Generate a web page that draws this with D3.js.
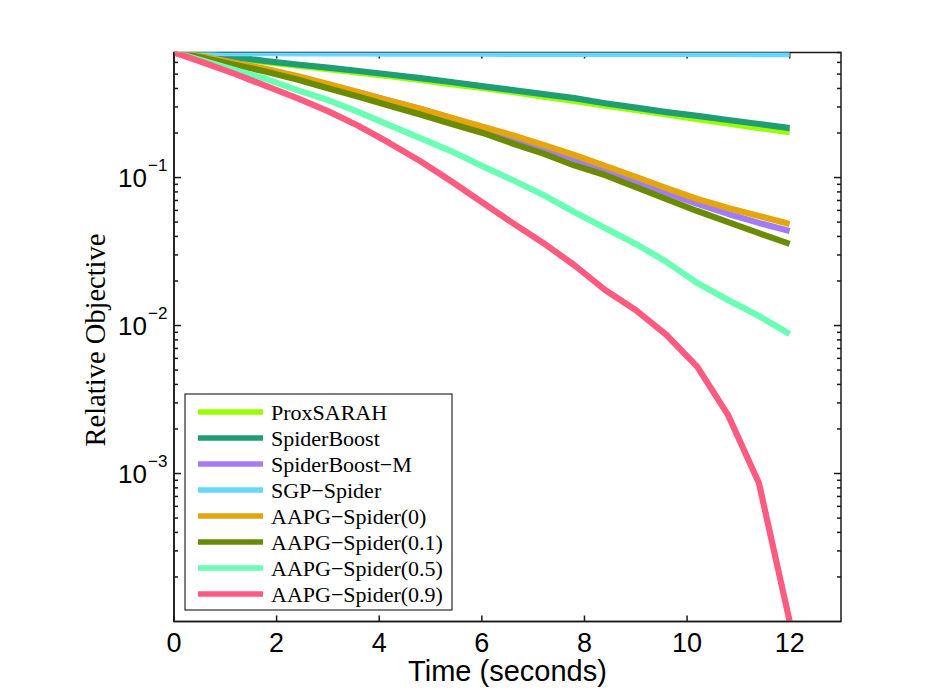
<!DOCTYPE html>
<html>
<head>
<meta charset="utf-8">
<script src="https://cdn.jsdelivr.net/npm/d3@7"></script>
<style>
	body { margin: 0; background: #fff; }
	svg { display: block; }
	.tick-label { font-family: "Liberation Sans", Arial, sans-serif; fill: #000; }
	.serif { font-family: "Liberation Serif", "Times New Roman", serif; fill: #000; }
</style>
</head>
<body>
<svg id="chart" width="930" height="700"></svg>
<script>
// time axis, shared by all runs (seconds)
var times = [0, 0.6, 1.2, 1.8, 2.4, 3.0, 3.6, 4.2, 4.8, 5.4, 6.0, 6.6, 7.2, 7.8, 8.4, 9.0, 9.6, 10.2, 10.8, 11.4, 12.0];

var proxSarah = [0.70, 0.677, 0.641, 0.602, 0.571, 0.541, 0.512, 0.485, 0.456, 0.428, 0.403, 0.379, 0.352, 0.329, 0.306, 0.286, 0.267, 0.248, 0.232, 0.216, 0.203];
var spiderBoost = [0.70, 0.682, 0.652, 0.612, 0.581, 0.553, 0.525, 0.497, 0.470, 0.442, 0.415, 0.390, 0.366, 0.344, 0.318, 0.297, 0.277, 0.261, 0.245, 0.230, 0.216];
var spiderBoostM = [0.70, 0.650, 0.591, 0.537, 0.482, 0.425, 0.376, 0.330, 0.291, 0.253, 0.218, 0.187, 0.159, 0.134, 0.113, 0.0938, 0.0788, 0.0664, 0.0568, 0.0494, 0.0436];
var sgpSpider = [0.700, 0.696, 0.694, 0.692, 0.691, 0.690, 0.689, 0.688, 0.688, 0.687, 0.687, 0.686, 0.686, 0.685, 0.685, 0.685, 0.684, 0.684, 0.684, 0.683, 0.683];
var aapg0 = [0.70, 0.652, 0.594, 0.541, 0.485, 0.428, 0.377, 0.331, 0.292, 0.254, 0.221, 0.193, 0.166, 0.142, 0.120, 0.101, 0.0849, 0.0716, 0.0622, 0.0550, 0.0485];
var aapg01 = [0.70, 0.641, 0.577, 0.519, 0.460, 0.401, 0.352, 0.306, 0.267, 0.231, 0.201, 0.170, 0.145, 0.121, 0.104, 0.0863, 0.0716, 0.0594, 0.0500, 0.0421, 0.0356];
var aapg05 = [0.70, 0.612, 0.532, 0.463, 0.390, 0.334, 0.277, 0.226, 0.185, 0.151, 0.120, 0.0962, 0.0762, 0.0585, 0.0456, 0.0356, 0.0269, 0.0194, 0.0149, 0.0116, 0.00877];
var aapg09 = [0.70, 0.594, 0.500, 0.415, 0.344, 0.281, 0.223, 0.171, 0.129, 0.0946, 0.0682, 0.0493, 0.0361, 0.0256, 0.0174, 0.0127, 0.00863, 0.00525, 0.00248, 0.000863, 0.0001];

var seriesNames = ["ProxSARAH", "SpiderBoost", "SpiderBoost\u2212M", "SGP\u2212Spider",
	"AAPG\u2212Spider(0)", "AAPG\u2212Spider(0.1)", "AAPG\u2212Spider(0.5)", "AAPG\u2212Spider(0.9)"];
var seriesValues = [proxSarah, spiderBoost, spiderBoostM, sgpSpider, aapg0, aapg01, aapg05, aapg09];
var seriesColors = ["#99ff00", "#1f9e74", "#a27cf6", "#66d8ff", "#e5a50c", "#6b8b00", "#6affb5", "#ff5a7f"];

var xTicks = [0, 2, 4, 6, 8, 10, 12];
var yMajor = [1e-1, 1e-2, 1e-3];
var yExponents = ["\u22121", "\u22122", "\u22123"];

(function() {
	// plot frame in pixels
	var pLeft = 174, pRight = 841, pTop = 52.5, pBottom = 621.5;

	var svg = d3.select("#chart");

	var x = d3.scaleLinear().domain([0, 13]).range([pLeft, pRight]);
	var y = d3.scaleLog().domain([1e-4, 0.7]).range([pBottom, pTop]);

	// minor log ticks 2..9 of every decade that falls inside the domain
	var yMinor = [];
	[1e-4, 1e-3, 1e-2, 1e-1].forEach(function(d) {
		for (var k = 2; k <= 9; k++) {
			var v = d * k;
			if (v <= 0.7 + 1e-9) {
				yMinor.push(v);
			}
		}
	});

	var axisColor = "#1a1a1a";

	svg.append("defs").append("clipPath")
		.attr("id", "plotClip")
		.append("rect")
		.attr("x", pLeft)
		.attr("y", pTop)
		.attr("width", pRight - pLeft)
		.attr("height", pBottom - pTop);

	// axes box with inward ticks on all four sides
	var axes = svg.append("g")
		.attr("stroke", axisColor)
		.attr("stroke-width", 1.5)
		.attr("fill", "none");

	axes.append("rect")
		.attr("x", pLeft)
		.attr("y", pTop)
		.attr("width", pRight - pLeft)
		.attr("height", pBottom - pTop);

	xTicks.forEach(function(t) {
		axes.append("line").attr("x1", x(t)).attr("x2", x(t)).attr("y1", pBottom).attr("y2", pBottom - 6);
		axes.append("line").attr("x1", x(t)).attr("x2", x(t)).attr("y1", pTop).attr("y2", pTop + 6);
	});

	yMajor.forEach(function(v) {
		axes.append("line").attr("x1", pLeft).attr("x2", pLeft + 7).attr("y1", y(v)).attr("y2", y(v));
		axes.append("line").attr("x1", pRight).attr("x2", pRight - 7).attr("y1", y(v)).attr("y2", y(v));
	});

	yMinor.forEach(function(v) {
		axes.append("line").attr("x1", pLeft).attr("x2", pLeft + 4).attr("y1", y(v)).attr("y2", y(v));
		axes.append("line").attr("x1", pRight).attr("x2", pRight - 4).attr("y1", y(v)).attr("y2", y(v));
	});

	// clipped line layer, drawn in legend order
	var line = d3.line()
		.x(function(d, i) { return x(times[i]); })
		.y(function(d) { return y(d); });

	svg.append("g")
		.attr("clip-path", "url(#plotClip)")
		.selectAll("path")
		.data(seriesValues)
		.enter()
		.append("path")
		.attr("d", line)
		.attr("fill", "none")
		.attr("stroke", function(d, i) { return seriesColors[i]; })
		.attr("stroke-width", 6.2)
		.attr("stroke-linejoin", "round")
		.attr("stroke-linecap", "butt");

	// redraw the frame sides that the curves may have covered
	svg.append("line")
		.attr("x1", pLeft).attr("x2", pLeft).attr("y1", pTop).attr("y2", pBottom)
		.attr("stroke", axisColor).attr("stroke-width", 1.5);
	svg.append("line")
		.attr("x1", pLeft).attr("x2", pRight).attr("y1", pBottom).attr("y2", pBottom)
		.attr("stroke", axisColor).attr("stroke-width", 1.5);

	// tick labels
	svg.append("g")
		.selectAll("text")
		.data(xTicks)
		.enter()
		.append("text")
		.attr("class", "tick-label")
		.attr("x", function(d) { return x(d); })
		.attr("y", pBottom + 30)
		.attr("text-anchor", "middle")
		.style("font-size", "27px")
		.text(function(d) { return d; });

	var yLabels = svg.append("g");
	yMajor.forEach(function(v, i) {
		yLabels.append("text")
			.attr("class", "tick-label")
			.attr("x", 147)
			.attr("y", y(v) + 9.5)
			.attr("text-anchor", "end")
			.style("font-size", "26px")
			.text("10");
		yLabels.append("text")
			.attr("class", "tick-label")
			.attr("x", 148)
			.attr("y", y(v) - 7)
			.attr("text-anchor", "start")
			.style("font-size", "17px")
			.text(yExponents[i]);
	});

	// axis titles
	svg.append("text")
		.attr("class", "tick-label")
		.attr("x", (pLeft + pRight) / 2)
		.attr("y", 681)
		.attr("text-anchor", "middle")
		.style("font-size", "29px")
		.text("Time (seconds)");

	svg.append("text")
		.attr("class", "serif")
		.attr("transform", "translate(105," + ((pTop + pBottom) / 2 + 3) + ") rotate(-90)")
		.attr("text-anchor", "middle")
		.style("font-size", "28.5px")
		.text("Relative Objective");

	// legend
	var legX = 185, legY = 394, legW = 267, legH = 216, rowH = 26;

	var legend = svg.append("g");
	legend.append("rect")
		.attr("x", legX)
		.attr("y", legY)
		.attr("width", legW)
		.attr("height", legH)
		.attr("fill", "#fff")
		.attr("stroke", "#000")
		.attr("stroke-width", 1);

	var rows = legend.selectAll("g.row")
		.data(seriesNames)
		.enter()
		.append("g")
		.attr("class", "row")
		.attr("transform", function(d, i) { return "translate(0," + (legY + 18 + i * rowH) + ")"; });

	rows.append("line")
		.attr("x1", legX + 13)
		.attr("x2", legX + 78)
		.attr("y1", 0)
		.attr("y2", 0)
		.attr("stroke", function(d, i) { return seriesColors[i]; })
		.attr("stroke-width", 5.5);

	rows.append("text")
		.attr("class", "serif")
		.attr("x", legX + 86)
		.attr("y", 7.5)
		.style("font-size", "22px")
		.text(function(d) { return d; });
})();
</script>
</body>
</html>
